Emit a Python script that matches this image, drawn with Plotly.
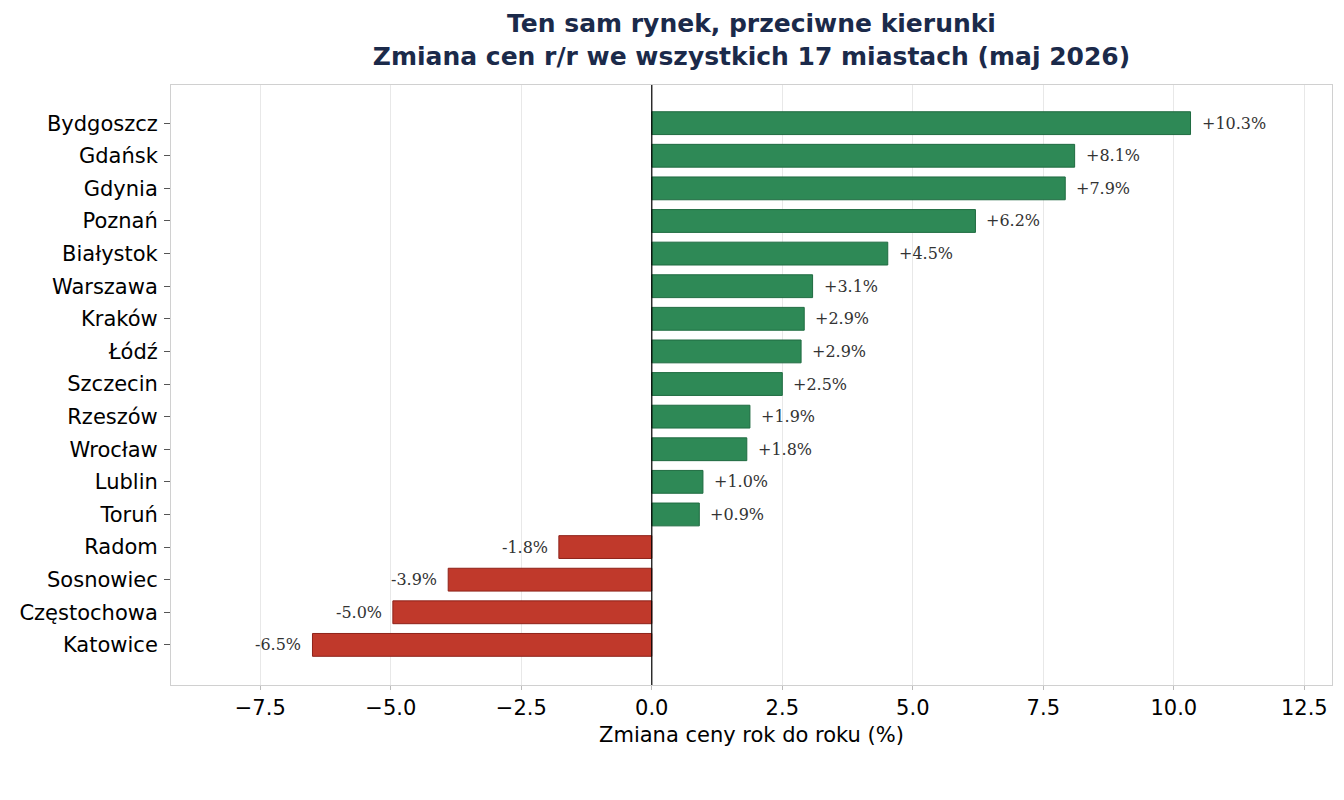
import plotly.graph_objects as go

cities = ["Bydgoszcz", "Gdańsk", "Gdynia", "Poznań", "Białystok", "Warszawa", "Kraków",
          "Łódź", "Szczecin", "Rzeszów", "Wrocław", "Lublin", "Toruń", "Radom",
          "Sosnowiec", "Częstochowa", "Katowice"]
changes = [10.32, 8.1, 7.92, 6.2, 4.52, 3.08, 2.92, 2.86, 2.5, 1.88, 1.82, 0.98, 0.91,
           -1.78, -3.9, -4.96, -6.5]
labels = ["+10.3%", "+8.1%", "+7.9%", "+6.2%", "+4.5%", "+3.1%", "+2.9%", "+2.9%", "+2.5%",
          "+1.9%", "+1.8%", "+1.0%", "+0.9%", "-1.8%", "-3.9%", "-5.0%", "-6.5%"]
x_ticks = [-7.5, -5.0, -2.5, 0.0, 2.5, 5.0, 7.5, 10.0, 12.5]

GREEN = "#2e8956"
RED = "#c0392b"
colors = [GREEN if v >= 0 else RED for v in changes]
edges = ["#1f6b40" if v >= 0 else "#8e2219" for v in changes]

fig = go.Figure()
fig.add_trace(go.Bar(
    x=changes, y=cities, orientation="h",
    marker=dict(color=colors, line=dict(color=edges, width=1)),
    width=0.7, showlegend=False, hoverinfo="x+y",
))

for c, v, lab in zip(cities, changes, labels):
    fig.add_annotation(
        x=v, y=c, text=lab, showarrow=False,
        xanchor="left" if v >= 0 else "right",
        xshift=9 if v >= 0 else -9,
        font=dict(family="DejaVu Serif", size=16, color="#333333"),
    )

fig.add_shape(type="line", x0=0, x1=0, y0=0, y1=1, yref="paper", xref="x",
              line=dict(color="black", width=1.2))

fig.update_layout(
    width=1344, height=800,
    margin=dict(l=171, r=12, t=85, b=115),
    paper_bgcolor="white", plot_bgcolor="white",
    title=dict(
        text="<b>Ten sam rynek, przeciwne kierunki<br>Zmiana cen r/r we wszystkich 17 miastach (maj 2026)</b>",
        x=(171 + 1332) / 2 / 1344, xanchor="center",
        yref="container", y=1 - 32 / 800, yanchor="middle",
        font=dict(family="DejaVu Sans", size=25, color="#1b2a4a"),
    ),
    xaxis=dict(
        range=[-9.21, 13.03], tickvals=x_ticks,
        ticktext=[("\u2212" if t < 0 else "") + f"{abs(t):.1f}" for t in x_ticks],
        showgrid=True, gridcolor="#e8e8e8", gridwidth=1, zeroline=False,
        ticks="outside", ticklen=4, tickcolor="#bbbbbb",
        showline=True, linecolor="#d0d0d0", mirror=True,
        tickfont=dict(family="DejaVu Sans", size=21, color="black"),
        title=dict(text="Zmiana ceny rok do roku (%)",
                   font=dict(family="DejaVu Sans", size=21, color="black"), standoff=8),
    ),
    yaxis=dict(
        categoryorder="array", categoryarray=cities[::-1],
        range=[-1.23, 17.17], showgrid=False, zeroline=False,
        ticks="outside", ticklen=6, tickcolor="#555555",
        showline=True, linecolor="#d0d0d0", mirror=True,
        ticklabelstandoff=2,
        tickfont=dict(family="DejaVu Sans", size=21, color="black"),
    ),
    font=dict(family="DejaVu Sans"),
)

fig.write_html("out.html")
